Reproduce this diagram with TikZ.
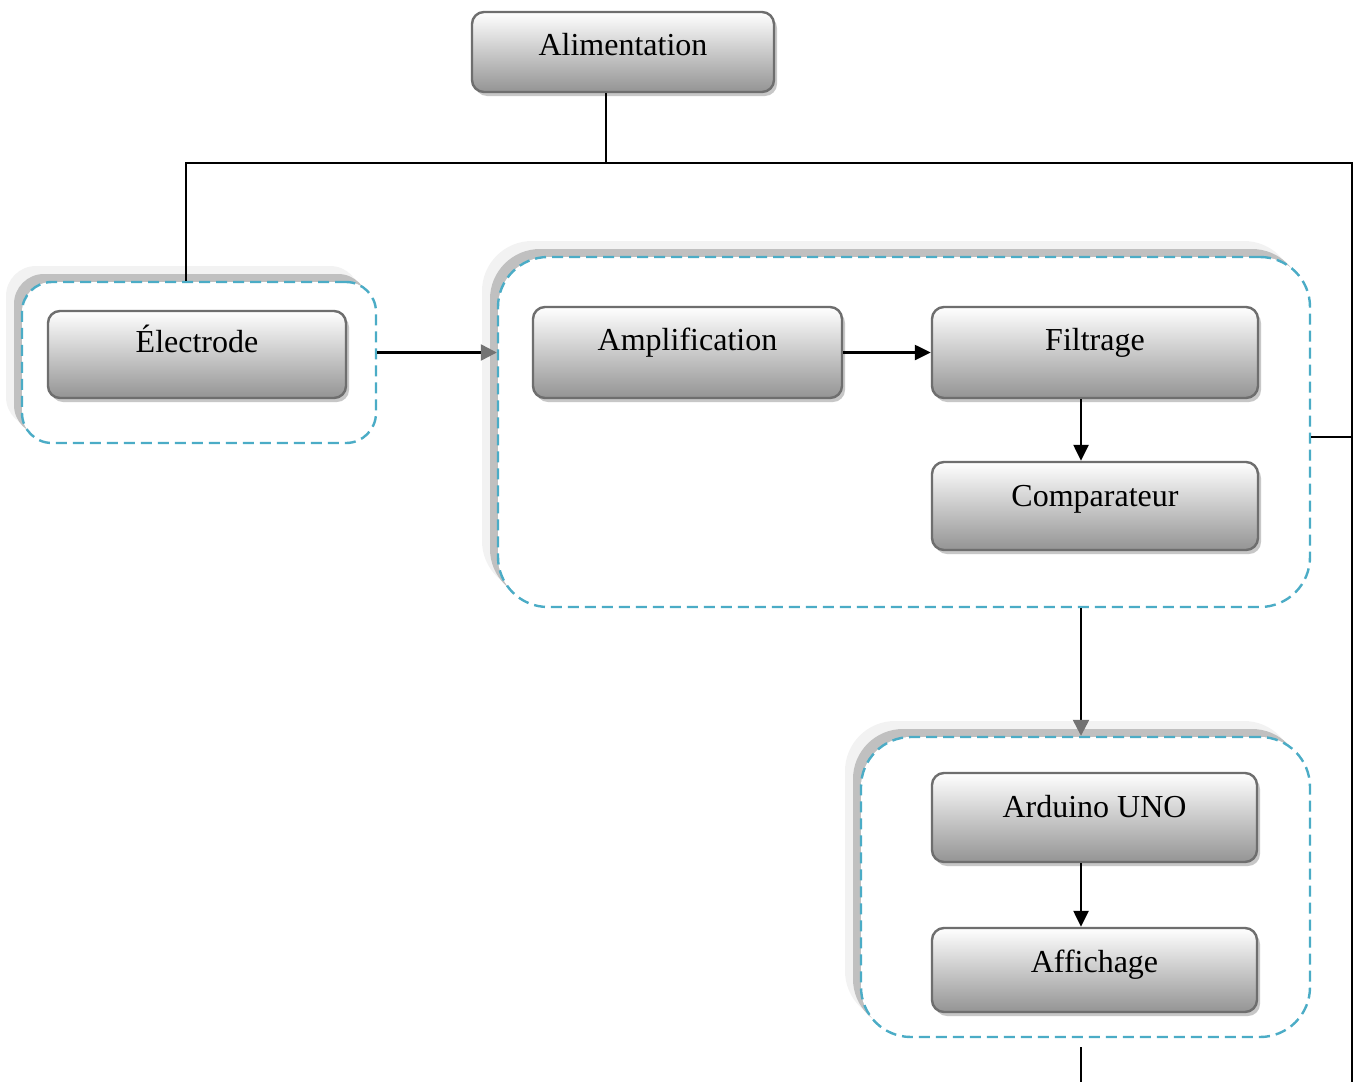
\documentclass[tikz,border=0pt]{standalone}
\usepackage{fontspec}
\setmainfont{Liberation Serif}
\usetikzlibrary{arrows.meta,shadows}
\definecolor{dashblue}{HTML}{4BACC6}
\definecolor{boxborder}{HTML}{6E6E6E}
\definecolor{shadeA}{HTML}{C0C0C0}
\definecolor{shadeB}{HTML}{F2F2F2}
\tikzset{
  blockbox/.style={draw=boxborder, line width=2.4pt, rounded corners=12pt,
    top color=white, bottom color=black!42, inner sep=0pt,
    general shadow={shadow xshift=3pt, shadow yshift=-4pt, fill=black!22}},
  blocktext/.style={anchor=base, inner sep=0pt, font=\fontsize{32}{37}\selectfont},
  groupbox/.style={draw=dashblue, line width=2.4pt, dash pattern=on 11pt off 6pt, fill=white, inner sep=0pt,
    general shadow={shadow xshift=-16pt, shadow yshift=16pt, fill=shadeB},
    general shadow={shadow xshift=-8pt, shadow yshift=8pt, fill=shadeA}},
  wire/.style={line width=1.8pt, black},
  blackarrow/.style={line width=2.4pt, black, -{Triangle[length=16pt, width=15pt]}},
  grayarrow/.style={line width=2.4pt, black, -{Triangle[length=16pt, width=16pt, color=black!55]}},
}
\begin{document}
\begin{tikzpicture}[x=1pt, y=-1pt]
\useasboundingbox (0,0) rectangle (1358,1082);
% groups
\node[groupbox, rounded corners=30pt, minimum width=354pt, minimum height=161pt] (g1) at (199,362.5) {};
\node[groupbox, rounded corners=50pt, minimum width=812pt, minimum height=350pt] (g2) at (904,432) {};
\node[groupbox, rounded corners=50pt, minimum width=449pt, minimum height=300pt] (g3) at (1085.5,887) {};
% blocks
\node[blockbox, minimum width=302pt, minimum height=80pt] (ali) at (623,52) {};
\node[blockbox, minimum width=298pt, minimum height=87pt] (ele) at (197,354.5) {};
\node[blockbox, minimum width=309pt, minimum height=91pt] (amp) at (687.5,352.5) {};
\node[blockbox, minimum width=326pt, minimum height=91pt] (fil) at (1095,352.5) {};
\node[blockbox, minimum width=326pt, minimum height=88pt] (com) at (1095,506) {};
\node[blockbox, minimum width=325pt, minimum height=89pt] (ard) at (1094.5,817.5) {};
\node[blockbox, minimum width=325pt, minimum height=84pt] (aff) at (1094.5,970) {};
% texts
\node[blocktext] (tali) at ([yshift=-3pt]ali.center) {Alimentation};
\node[blocktext] (tele) at ([yshift=2pt]ele.center) {Électrode};
\node[blocktext] (tamp) at ([yshift=2pt]amp.center) {Amplification};
\node[blocktext] (tfil) at ([yshift=2pt]fil.center) {Filtrage};
\node[blocktext] (tcom) at ([yshift=0pt]com.center) {Comparateur};
\node[blocktext] (tard) at ([yshift=0pt]ard.center) {Arduino UNO};
\node[blocktext] (taff) at ([yshift=-2pt]aff.center) {Affichage};
% coordinates
\coordinate (aliT) at (606,163);
\coordinate (busL) at (186,163);
\coordinate (busR) at (1352,163);
\coordinate (busB) at (1352,1082);
\coordinate (vx) at (1081,0);
\coordinate (botT) at (1081,1047);
\coordinate (botB) at (1081,1082);
\coordinate (g2r) at ([yshift=-5pt]g2.east);
% wires
\draw[wire] (aliT |- ali.south) -- (aliT);
\draw[wire] (busL |- g1.north) -- (busL) -- (busR) -- (busB);
\draw[wire] (g2r) -- (busR |- g2r);
\draw[wire] (botT) -- (botB);
% arrows
\draw[grayarrow] (g1.east |- amp.east) -- (g2.west |- amp.east);
\draw[blackarrow] (amp.east) -- (fil.west);
\draw[blackarrow] (vx |- fil.south) -- (vx |- com.north);
\draw[grayarrow] (vx |- g2.south) -- (vx |- g3.north);
\draw[blackarrow] (vx |- ard.south) -- (vx |- aff.north);
\end{tikzpicture}
\end{document}
